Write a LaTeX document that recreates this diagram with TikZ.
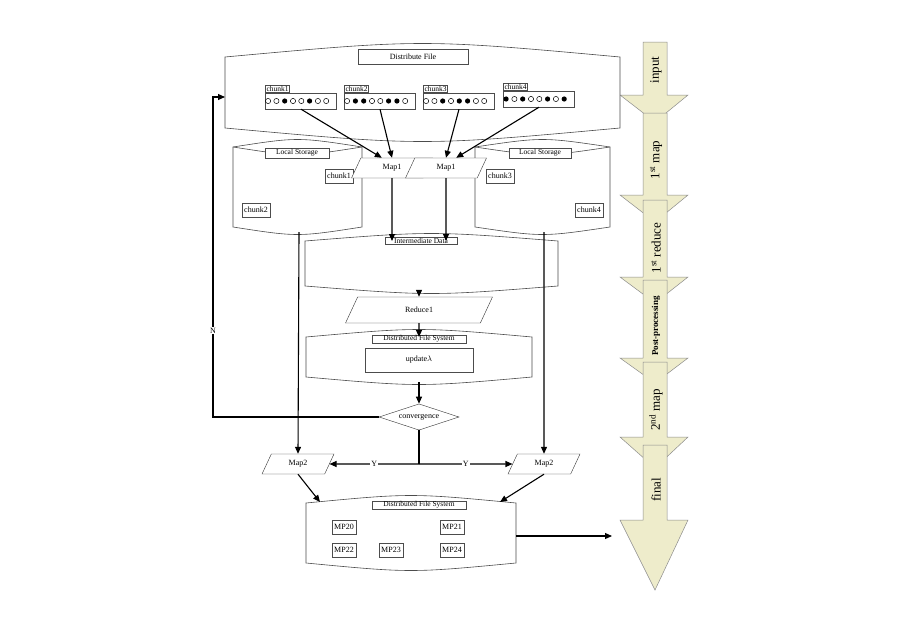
\documentclass[tikz,border=0pt]{standalone}
\usepackage{fontspec}
\setmainfont{Liberation Serif}
\usetikzlibrary{shapes.geometric,arrows.meta,calc}
\newcommand\bagshape[5]{% x1 top x2 bot bulge
  \draw[bagline] (#1,#2+#5) .. controls ({(#1+#3)/2},#2-#5) .. (#3,#2+#5) -- (#3,#4-#5) .. controls ({(#1+#3)/2},#4+#5) .. (#1,#4-#5) -- cycle;}
\newcommand\cylshape[5]{% x1 top x2 bot bulge
  \draw[bagline] (#1,#2+#5) .. controls ({(#1+#3)/2},#2-#5) .. (#3,#2+#5) -- (#3,#4-#5) .. controls ({(#1+#3)/2},#4+#5) .. (#1,#4-#5) -- cycle;
  \draw[bagline] (#1,#2+#5) .. controls ({(#1+#3)/2},#2+3*#5) .. (#3,#2+#5);}
\tikzset{
  bagline/.style={draw=black!70,fill=white,line width=0.6pt},
  lbl/.style={draw=black!70,fill=white,inner sep=1.5pt,font=\fontsize{7.5}{8}\selectfont},
  box/.style={draw=black!70,fill=white,inner sep=2pt,minimum height=14pt,font=\fontsize{8}{9}\selectfont},
  para/.style={trapezium,trapezium left angle=65,trapezium right angle=115,draw=black!80,fill=white,font=\fontsize{8}{9}\selectfont,minimum height=20pt,text width=26pt,align=center,inner sep=1pt},
  arr/.style={-{Triangle[length=7pt,width=6pt]},line width=1.1pt},
  ln/.style={line width=1.1pt},
  dotbox/.style={draw=black!70,fill=white,minimum width=71pt,minimum height=16pt,inner sep=0pt},
  blk/.style={fill=olive!15!white,draw=black!45,line width=0.5pt},
  blktxt/.style={rotate=90,font=\fontsize{13}{14}\selectfont},
}
\newcommand\dotrow[2]{\foreach \c [count=\i] in {#2}{\ifnum\c=1 \fill ($(#1)+(\i*8.3-4.2-37,0)$) circle (2.6pt);\else \draw[line width=0.5pt] ($(#1)+(\i*8.3-4.2-37,0)$) circle (2.6pt);\fi}}
\newcommand\blockarrow[3]{% top headbase tip
  \draw[blk] (643,#1) -- (667,#1) -- (667,#2) -- (688,#2) -- (655,#3) -- (620,#2) -- (643,#2) -- cycle;}
\begin{document}
\begin{tikzpicture}[x=1pt,y=-1pt]
\useasboundingbox[fill=white] (0,0) rectangle (900,629);
% right column arrows
\blockarrow{42}{95}{122}
\blockarrow{113}{195}{222}
\blockarrow{200}{277}{303}
\blockarrow{280}{358}{383}
\blockarrow{362}{437}{468}
\blockarrow{445}{520}{590}
\node[blktxt] (t1) at (656,70) {input};
\node[blktxt] (t2) at (656,160) {1\textsuperscript{st} map};
\node[blktxt] (t3) at (656,248) {1\textsuperscript{st} reduce};
\node[rotate=90,font=\bfseries\fontsize{9}{10}\selectfont] (t4) at (656,326) {Post-processing};
\node[blktxt] (t5) at (656,410) {2\textsuperscript{nd} map};
\node[blktxt] (t6) at (656,490) {final};

% distribute file
\bagshape{225}{48}{620}{137}{9}
\node[lbl,minimum width=110pt,minimum height=15pt,font=\fontsize{8}{9}\selectfont] (df) at (413,57) {Distribute File};
\coordinate (dfin) at (225,97);
\foreach \n/\x/\y in {1/301/101,2/380/101,3/459/101,4/539/99}{
  \node[dotbox] (d\n) at (\x,\y) {};
  \node[lbl,anchor=south west,inner sep=1pt] (c\n) at (d\n.north west) {chunk\n};
}
\dotrow{d1}{0,0,1,0,0,1,0,0}
\dotrow{d2}{0,1,1,0,0,1,1,0}
\dotrow{d3}{0,0,1,0,1,1,0,0}
\dotrow{d4}{1,0,1,0,0,1,0,1}
% local storages
\cylshape{233}{142}{362}{232}{5}
\cylshape{475}{142}{610}{232}{5}
\node[lbl,minimum width=64pt] (ls1) at (297,153) {Local Storage};
\node[lbl,minimum width=62pt] (ls2) at (540,153) {Local Storage};
\node[box] (s1) at (339,176) {chunk1};
\node[box] (s2) at (256,210) {chunk2};
\node[box] (s3) at (500,176) {chunk3};
\node[box] (s4) at (589,210) {chunk4};
% map1
\node[para] (m1) at (392,168) {Map1};
\node[para] (m2) at (446,168) {Map1};
% intermediate
\bagshape{305}{236}{558}{291}{5}
\node[lbl,inner sep=0.8pt,minimum width=72pt] (im) at (421,241) {Intermediate Data};
\node[para,text width=34pt,minimum height=26pt] (r1) at (419,310) {Reduce1};
\bagshape{306}{332}{532}{382}{5}
\node[lbl,inner sep=0.8pt,minimum width=94pt] (dfs1) at (419,339) {Distributed File System};
\node[box,minimum width=108pt,minimum height=24pt] (up) at (419,360) {update$\lambda$};
\node[diamond,draw=black!80,fill=white,aspect=2.3,inner sep=1pt,minimum width=80pt,font=\fontsize{8}{9}\selectfont] (cv) at (419,417) {convergence};
\node[para,text width=22pt] (p1) at (298,464) {Map2};
\node[para,text width=22pt] (p2) at (544,464) {Map2};
\bagshape{306}{498}{516}{568}{5}
\node[lbl,inner sep=0.8pt,minimum width=94pt] (dfs2) at (419,505) {Distributed File System};
\node[box] (mp20) at (344,527) {MP20};
\node[box] (mp21) at (452,527) {MP21};
\node[box] (mp22) at (344,550) {MP22};
\node[box] (mp23) at (391,550) {MP23};
\node[box] (mp24) at (452,550) {MP24};
\coordinate (fo) at (516,536);
\coordinate (ft) at (612,536);
\draw[arr] (fo) -- (ft);
% connectors
\draw[arr] (d1.south) -- (m1.north west);
\draw[arr] (d2.south) -- (m1.north);
\draw[arr] (d3.south) -- (m2.north);
\draw[arr] (d4.south) -- (m2.north east);
\coordinate (ia) at (392,241);
\coordinate (ib2) at (446,241);
\draw[arr] (m1.south) -- (ia);
\draw[arr] (m2.south) -- (ib2);
\coordinate (ib) at (419,291);
\draw[arr] (ib) -- (r1.north);
\coordinate (dt) at (419,337);
\draw[arr] (r1.south) -- (dt);
\coordinate (db) at (419,382);
\draw[arr] (db) -- (cv.north);
\coordinate (lsb1) at (299,232);
\coordinate (lsb2) at (544,232);
\draw[arr] (lsb1) -- (p1.north);
\draw[arr] (lsb2) -- (p2.north);
\coordinate (yj) at (419,464);
\draw[ln] (cv.south) -- (yj);
\draw[arr] (yj) -- node[fill=white,inner sep=1pt,font=\fontsize{8}{9}\selectfont]{Y} (p1.east);
\draw[arr] (yj) -- node[fill=white,inner sep=1pt,font=\fontsize{8}{9}\selectfont]{Y} (p2.west);
\coordinate (nc1) at (213,417);
\coordinate (nc2) at (213,97);
\draw[arr] (cv.west) -- (nc1) -- node[fill=white,inner sep=1pt,font=\fontsize{8}{9}\selectfont,pos=0.27]{N} (nc2) -- (dfin);
\coordinate (fb1) at (320,502);
\coordinate (fb2) at (500,502);
\draw[arr] (p1.south) -- (fb1);
\draw[arr] (p2.south) -- (fb2);
\end{tikzpicture}
\end{document}
